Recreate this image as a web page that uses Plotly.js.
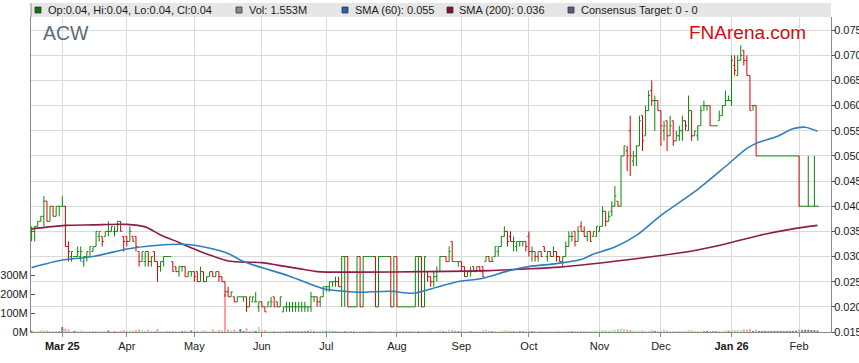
<!DOCTYPE html>
<html><head><meta charset="utf-8">
<script src="https://cdn.plot.ly/plotly-3.0.1.min.js"></script>
<style>html,body{margin:0;padding:0;background:#fff}#chart{width:859px;height:363px}</style>
</head><body><div id="chart"></div>
<script>
// ---- data (ACW daily, first bar 2025-02-17, weekdays) ----
const firstDay = '2025-02-17';
const openP = [
0.035,0.035,0.036,0.037,0.038,0.041,0.037,0.040,0.038,0.040,
0.040,0.040,0.032,0.030,0.030,0.030,0.030,0.029,0.030,0.030,
0.031,0.032,0.034,0.034,0.034,0.035,0.035,0.035,0.035,0.037,
0.034,0.034,0.033,0.034,0.034,0.031,0.029,0.029,0.031,0.029,
0.031,0.029,0.028,0.029,0.030,0.030,0.029,0.028,0.027,0.028,
0.028,0.026,0.027,0.027,0.027,0.025,0.027,0.025,0.026,0.027,
0.026,0.027,0.026,0.025,0.023,0.022,0.022,0.021,0.022,0.022,
0.022,0.020,0.021,0.021,0.020,0.021,0.020,0.020,0.020,0.022,
0.021,0.020,0.019,0.020,0.020,0.020,0.020,0.020,0.020,0.020,
0.020,0.020,0.022,0.022,0.021,0.022,0.024,0.024,0.025,0.025,
0.025,0.024,0.030,0.030,0.020,0.020,0.020,0.030,0.020,0.030,
0.030,0.030,0.030,0.020,0.030,0.030,0.030,0.030,0.020,0.030,
0.020,0.020,0.020,0.020,0.020,0.020,0.030,0.030,0.020,0.027,
0.026,0.025,0.026,0.027,0.030,0.030,0.029,0.033,0.029,0.029,
0.029,0.028,0.026,0.027,0.028,0.027,0.028,0.028,0.029,0.030,
0.029,0.030,0.031,0.032,0.034,0.035,0.034,0.033,0.032,0.033,
0.033,0.033,0.034,0.031,0.031,0.030,0.031,0.032,0.030,0.031,
0.030,0.031,0.030,0.029,0.030,0.032,0.034,0.035,0.033,0.036,
0.035,0.034,0.035,0.034,0.034,0.035,0.036,0.039,0.037,0.039,
0.040,0.041,0.040,0.050,0.051,0.055,0.049,0.050,0.052,0.058,
0.054,0.059,0.063,0.061,0.061,0.059,0.055,0.057,0.054,0.057,
0.053,0.054,0.055,0.057,0.055,0.059,0.054,0.054,0.056,0.060,
0.060,0.060,0.056,0.056,0.057,0.058,0.060,0.061,0.061,0.068,
0.066,0.069,0.071,0.069,0.066,0.060,0.060,0.050,0.050,0.050,
0.050,0.050,0.050,0.050,0.050,0.050,0.050,0.050,0.050,0.050,
0.050,0.040,0.040,0.040,0.040,0.040,0.040];
const highP = [
0.036,0.036,0.037,0.038,0.042,0.041,0.040,0.040,0.040,0.040,
0.042,0.040,0.033,0.031,0.030,0.032,0.032,0.030,0.031,0.032,
0.032,0.035,0.035,0.034,0.035,0.037,0.036,0.036,0.037,0.037,
0.034,0.034,0.036,0.034,0.034,0.031,0.031,0.031,0.031,0.030,
0.031,0.029,0.029,0.030,0.030,0.030,0.029,0.028,0.028,0.028,
0.028,0.027,0.027,0.027,0.027,0.028,0.027,0.026,0.027,0.027,
0.027,0.027,0.026,0.025,0.024,0.023,0.022,0.022,0.022,0.022,
0.022,0.022,0.022,0.023,0.021,0.021,0.020,0.021,0.022,0.022,
0.021,0.022,0.020,0.021,0.021,0.021,0.021,0.021,0.021,0.021,
0.020,0.023,0.022,0.022,0.022,0.024,0.024,0.025,0.025,0.026,
0.026,0.030,0.030,0.030,0.020,0.020,0.030,0.030,0.030,0.030,
0.030,0.030,0.030,0.030,0.030,0.030,0.030,0.030,0.030,0.030,
0.020,0.020,0.020,0.020,0.020,0.030,0.030,0.030,0.030,0.027,
0.026,0.027,0.028,0.030,0.030,0.030,0.032,0.033,0.029,0.029,
0.029,0.028,0.027,0.028,0.028,0.028,0.028,0.028,0.030,0.030,
0.030,0.032,0.032,0.034,0.036,0.035,0.035,0.034,0.033,0.033,
0.033,0.033,0.035,0.032,0.031,0.031,0.031,0.032,0.031,0.031,
0.032,0.031,0.030,0.030,0.033,0.035,0.035,0.035,0.036,0.037,
0.036,0.035,0.035,0.035,0.036,0.036,0.040,0.039,0.039,0.041,
0.044,0.041,0.050,0.052,0.052,0.058,0.051,0.052,0.058,0.058,
0.060,0.063,0.065,0.062,0.061,0.059,0.057,0.057,0.058,0.057,
0.055,0.056,0.058,0.057,0.062,0.059,0.055,0.056,0.060,0.061,
0.060,0.060,0.056,0.056,0.059,0.060,0.063,0.062,0.070,0.070,
0.070,0.072,0.071,0.070,0.066,0.060,0.060,0.050,0.050,0.050,
0.050,0.050,0.050,0.050,0.050,0.050,0.050,0.050,0.050,0.050,
0.050,0.040,0.040,0.050,0.040,0.050,0.040];
const lowP = [
0.033,0.033,0.036,0.037,0.036,0.037,0.037,0.038,0.038,0.038,
0.040,0.032,0.029,0.029,0.030,0.030,0.029,0.028,0.029,0.030,
0.031,0.032,0.033,0.032,0.034,0.034,0.035,0.034,0.035,0.035,
0.031,0.032,0.033,0.033,0.031,0.028,0.029,0.028,0.028,0.028,
0.029,0.025,0.027,0.028,0.030,0.030,0.027,0.027,0.026,0.027,
0.026,0.026,0.026,0.025,0.025,0.025,0.025,0.025,0.026,0.026,
0.026,0.025,0.025,0.022,0.022,0.022,0.021,0.021,0.022,0.021,
0.019,0.020,0.021,0.021,0.019,0.020,0.019,0.020,0.020,0.020,
0.020,0.020,0.019,0.019,0.019,0.019,0.019,0.019,0.019,0.019,
0.019,0.019,0.021,0.020,0.020,0.022,0.023,0.023,0.024,0.024,
0.024,0.020,0.020,0.020,0.020,0.020,0.020,0.020,0.020,0.030,
0.030,0.030,0.020,0.020,0.030,0.030,0.030,0.020,0.020,0.020,
0.020,0.020,0.020,0.020,0.020,0.020,0.020,0.020,0.020,0.025,
0.024,0.024,0.025,0.027,0.030,0.029,0.029,0.029,0.029,0.028,
0.027,0.026,0.026,0.026,0.027,0.027,0.027,0.026,0.029,0.029,
0.029,0.030,0.030,0.032,0.034,0.032,0.033,0.031,0.031,0.032,
0.032,0.031,0.030,0.029,0.029,0.029,0.030,0.031,0.029,0.030,
0.030,0.029,0.029,0.028,0.030,0.032,0.033,0.032,0.033,0.035,
0.034,0.033,0.033,0.034,0.034,0.035,0.036,0.036,0.037,0.038,
0.040,0.040,0.040,0.050,0.047,0.046,0.048,0.048,0.052,0.051,
0.054,0.059,0.060,0.055,0.059,0.052,0.053,0.051,0.054,0.052,
0.053,0.053,0.053,0.055,0.055,0.053,0.054,0.053,0.056,0.059,
0.059,0.056,0.056,0.056,0.057,0.058,0.060,0.061,0.060,0.066,
0.066,0.069,0.068,0.066,0.059,0.059,0.050,0.050,0.050,0.050,
0.050,0.050,0.050,0.050,0.050,0.050,0.050,0.050,0.050,0.050,
0.040,0.040,0.040,0.040,0.040,0.040,0.040];
const closeP = [
0.035,0.036,0.037,0.038,0.041,0.037,0.040,0.038,0.040,0.040,
0.040,0.032,0.031,0.031,0.030,0.031,0.031,0.030,0.031,0.032,
0.032,0.035,0.035,0.033,0.035,0.035,0.036,0.035,0.037,0.035,
0.033,0.033,0.035,0.033,0.032,0.029,0.031,0.031,0.029,0.030,
0.029,0.028,0.029,0.030,0.030,0.030,0.027,0.027,0.028,0.028,
0.026,0.027,0.027,0.026,0.025,0.027,0.025,0.026,0.027,0.026,
0.027,0.026,0.025,0.023,0.022,0.023,0.021,0.022,0.022,0.022,
0.020,0.022,0.022,0.021,0.021,0.020,0.019,0.021,0.021,0.020,
0.020,0.022,0.020,0.020,0.020,0.020,0.020,0.020,0.020,0.020,
0.020,0.022,0.022,0.021,0.022,0.024,0.024,0.025,0.025,0.025,
0.024,0.030,0.030,0.020,0.020,0.020,0.030,0.020,0.030,0.030,
0.030,0.030,0.020,0.030,0.030,0.030,0.030,0.020,0.030,0.020,
0.020,0.020,0.020,0.020,0.020,0.030,0.030,0.020,0.030,0.026,
0.025,0.026,0.027,0.030,0.030,0.029,0.031,0.029,0.029,0.029,
0.028,0.026,0.027,0.027,0.027,0.028,0.027,0.026,0.030,0.029,
0.029,0.032,0.032,0.034,0.035,0.033,0.033,0.033,0.033,0.033,
0.033,0.032,0.031,0.031,0.030,0.031,0.030,0.031,0.031,0.030,
0.031,0.030,0.029,0.030,0.032,0.034,0.034,0.033,0.035,0.035,
0.034,0.035,0.033,0.035,0.036,0.036,0.039,0.037,0.038,0.040,
0.042,0.040,0.050,0.052,0.050,0.050,0.050,0.052,0.057,0.053,
0.059,0.062,0.061,0.061,0.059,0.056,0.056,0.054,0.056,0.053,
0.054,0.055,0.057,0.056,0.059,0.054,0.055,0.056,0.059,0.060,
0.060,0.056,0.056,0.056,0.058,0.060,0.061,0.061,0.069,0.067,
0.069,0.070,0.069,0.066,0.059,0.060,0.050,0.050,0.050,0.050,
0.050,0.050,0.050,0.050,0.050,0.050,0.050,0.050,0.050,0.050,
0.040,0.040,0.040,0.040,0.040,0.040,0.040];
// volume in millions of shares
const volumeM = [
6,4,3,8,8,8,6,4,6,4,
27,18,14,4,6,4,8,6,4,4,
6,6,4,4,6,8,4,4,4,6,
10,6,8,6,10,14,10,6,12,6,
4,16,4,4,3,3,6,4,4,4,
8,6,8,4,6,4,8,6,4,14,
6,10,8,200,14,8,12,6,16,6,
20,6,8,6,27,8,10,4,4,6,
4,6,4,4,4,4,3,4,4,4,
6,12,4,4,6,8,4,10,4,4,
6,4,4,4,3,3,4,4,4,3,
3,3,4,4,3,3,3,4,4,6,
3,3,3,3,3,4,4,4,4,6,
6,4,6,8,4,4,12,10,4,4,
6,4,4,4,4,4,4,8,12,6,
4,4,4,6,10,6,6,4,4,4,
4,4,6,4,4,4,6,4,4,4,
4,6,4,4,6,6,4,4,6,6,
4,6,4,6,6,8,10,8,6,8,
12,14,18,16,12,10,8,6,6,8,
6,6,10,6,4,6,12,8,4,4,
4,4,6,4,12,8,6,4,4,4,
6,6,4,4,6,4,8,6,10,10,
12,10,14,12,16,6,12,6,6,6,
6,6,6,6,6,6,6,6,6,6,
12,10,12,12,10,10,8];
// moving averages (bar index -> value)
const sma60Idx = [0,10,20,31,37,45,51,57,64,69,75,84,95,100,106,117,124,132,138,147,155,162,171,179,183,190,197,205,216,226,233,236,243,248,252,256];
const sma60Val = [0.0278,0.0293,0.0300,0.0315,0.0320,0.0324,0.0324,0.0318,0.0306,0.0290,0.0278,0.0261,0.0236,0.0232,0.0229,0.0231,0.0227,0.0239,0.0249,0.0257,0.0271,0.0280,0.0286,0.0294,0.0305,0.0319,0.0342,0.0382,0.0429,0.0479,0.0515,0.0525,0.0539,0.0554,0.0557,0.0549];
const sma200Idx = [0,11,20,31,37,42,48,53,58,64,69,75,80,87,93,106,128,149,160,172,188,205,216,226,237,248,256];
const sma200Val = [0.0355,0.0362,0.0363,0.0364,0.0359,0.0343,0.0328,0.0315,0.0303,0.0291,0.0289,0.0288,0.0283,0.0276,0.0270,0.0269,0.0270,0.0272,0.0275,0.0279,0.0289,0.0302,0.0312,0.0325,0.0342,0.0355,0.0362];
const monthLabels = ['Mar 25','Apr','May','Jun','Jul','Aug','Sep','Oct','Nov','Dec','Jan 26','Feb'];
const priceTicks = [0.015,0.020,0.025,0.030,0.035,0.040,0.045,0.050,0.055,0.060,0.065,0.070,0.075];
const volTicks = [0,100,200,300];
const legendItems = ['Op:0.04, Hi:0.04, Lo:0.04, Cl:0.04','Vol: 1.553M','SMA (60): 0.055','SMA (200): 0.036','Consensus Target: 0 - 0'];

// ---- build ----
const N = openP.length;
const idx = [], dates = [];
{ let d = new Date(firstDay + 'T00:00:00Z');
  while (dates.length < N) {
    const wd = d.getUTCDay();
    if (wd !== 0 && wd !== 6) { dates.push(new Date(d)); idx.push(dates.length - 1); }
    d.setUTCDate(d.getUTCDate() + 1);
  } }
const tickIdx = [];
for (let i = 1; i < N; i++) if (dates[i].getUTCMonth() !== dates[i-1].getUTCMonth()) tickIdx.push(i);
const tickText = monthLabels.slice(0, tickIdx.length).map(s => /\d/.test(s) ? '<b>' + s + '</b>' : s);

const volColors = openP.map((o, i) => closeP[i] > o ? '#96ee96' : closeP[i] < o ? '#ff9e9e' : '#7a7a7a');
// split into up/flat (green) and down (red) bars
const isDown = openP.map((o, i) => closeP[i] < o);
const pick = (arr, down) => arr.map((v, i) => isDown[i] === down ? v : null);

const W = 859, H = 363, ML = 31, MR = 28, MT = 17, MB = 31;
const PW = W - ML - MR, PH = H - MT - MB;
const px = v => (v - ML) / PW;
const py = v => (H - MB - v) / PH;
const FONT = 'Arial, "Liberation Sans", sans-serif';
const GREEN = '#098509', RED = '#d60000';

function ohlcTrace(down, color) {
  return { type: 'ohlc', x: idx, open: pick(openP, down), high: pick(highP, down), low: pick(lowP, down), close: pick(closeP, down),
    yaxis: 'y2', tickwidth: 0.5, increasing: { line: { color: color, width: 1 } }, decreasing: { line: { color: color, width: 1 } } };
}

const traces = [
  { type: 'bar', x: idx, y: volumeM, yaxis: 'y', marker: { color: volColors, line: { width: 0 } }, width: 0.65, hoverinfo: 'skip' },
  ohlcTrace(false, GREEN),
  ohlcTrace(true, RED),
  { type: 'scatter', mode: 'lines', x: sma200Idx, y: sma200Val, yaxis: 'y2', line: { color: '#8e1c45', width: 1.6, shape: 'spline', smoothing: 0.8 } },
  { type: 'scatter', mode: 'lines', x: sma60Idx, y: sma60Val, yaxis: 'y2', line: { color: '#2f7fc0', width: 1.6, shape: 'spline', smoothing: 0.8 } }
];

const shapes = [
  { type: 'rect', xref: 'paper', yref: 'paper', x0: 0, x1: 1, y0: py(17), y1: py(3), fillcolor: '#e6e6e6', line: { width: 0 }, layer: 'below' },
  { type: 'line', xref: 'paper', yref: 'paper', x0: 0, x1: 0, y0: 1, y1: py(3), line: { color: '#8a8a8a', width: 1 } }
];
const sqColors = ['#0a7a0a', '#8a8a8a', '#1f65a8', '#7e1230', '#5c5c8c'];
const sqX = [35, 236, 342, 447, 568];
const annotations = [];
legendItems.forEach((t, k) => {
  shapes.push({ type: 'rect', xref: 'paper', yref: 'paper', x0: px(sqX[k]), x1: px(sqX[k] + 6), y0: py(13), y1: py(7),
    fillcolor: sqColors[k], line: { color: '#333', width: 0.8 } });
  annotations.push({ xref: 'paper', yref: 'paper', x: px(sqX[k] + 10.5), y: py(10), xanchor: 'left', yanchor: 'middle',
    text: t, showarrow: false, font: { family: FONT, size: 11, color: '#1a1a1a' } });
});
annotations.push({ xref: 'paper', yref: 'paper', x: px(41), y: py(32.5), xanchor: 'left', yanchor: 'middle', text: 'ACW',
  showarrow: false, font: { family: FONT, size: 19.5, color: '#5d6b7a' } });
annotations.push({ xref: 'paper', yref: 'paper', x: px(808), y: py(32.5), xanchor: 'right', yanchor: 'middle', text: 'FNArena.com',
  showarrow: false, font: { family: FONT, size: 19, color: '#cc1010' } });

const layout = {
  width: W, height: H, margin: { l: ML, r: MR, t: MT, b: MB, pad: 0 },
  paper_bgcolor: '#fff', plot_bgcolor: '#fff', showlegend: false, dragmode: false,
  font: { family: FONT, size: 11, color: '#1a1a1a' },
  xaxis: { range: [-0.2, 260.4], tickvals: tickIdx, ticktext: tickText, showgrid: true, gridcolor: '#dadada', gridwidth: 1,
    zeroline: false, showline: true, linecolor: '#8a8a8a', linewidth: 1, ticks: 'outside', ticklen: 4, tickcolor: '#8a8a8a',
    rangeslider: { visible: false }, tickfont: { family: FONT, size: 11, color: '#1a1a1a' }, fixedrange: true },
  yaxis: { range: [0, 1667], tickvals: volTicks, ticktext: volTicks.map(v => v + 'M'), side: 'left', showgrid: false, zeroline: false,
    showline: true, linecolor: '#8a8a8a', ticks: 'inside', ticklen: 4, tickcolor: '#555', tickfont: { family: FONT, size: 11, color: '#1a1a1a' }, fixedrange: true },
  yaxis2: { overlaying: 'y', side: 'right', range: [0.015, 0.07762], tickvals: priceTicks, ticktext: priceTicks.map(v => v.toFixed(3)),
    showgrid: true, gridcolor: '#dadada', zeroline: false, showline: true, linecolor: '#8a8a8a', ticks: 'outside', ticklen: 3,
    ticklabelstandoff: -3, tickcolor: '#555', tickfont: { family: FONT, size: 11, color: '#1a1a1a' }, fixedrange: true },
  shapes: shapes, annotations: annotations, bargap: 0.3
};
Plotly.newPlot('chart', traces, layout, { displayModeBar: false, staticPlot: true });
</script></body></html>
